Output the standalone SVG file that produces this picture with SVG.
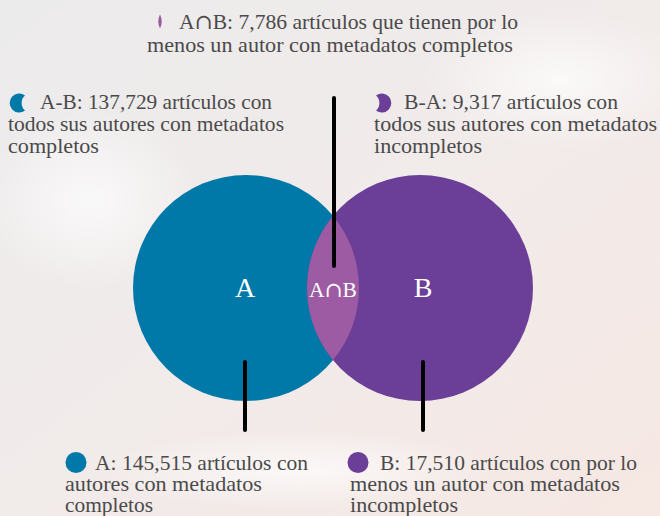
<svg xmlns="http://www.w3.org/2000/svg" width="660" height="516" viewBox="0 0 660 516">
<style>
.t{font-family:"Liberation Serif","DejaVu Serif",serif;font-size:21px;fill:#4a4a4a}
.c{font-family:"Liberation Serif","DejaVu Serif",serif;fill:#ffffff;text-anchor:middle}
.cap{font-family:"DejaVu Serif",serif}
.lead{stroke:#000;stroke-width:4;stroke-linecap:round;fill:none}
</style>
<defs>
<linearGradient id="bg" x1="0" y1="0" x2="1" y2="1">
<stop offset="0" stop-color="#ecebec"/>
<stop offset="0.5" stop-color="#f1ebea"/>
<stop offset="1" stop-color="#f6e8e3"/>
</linearGradient>
<radialGradient id="glow" cx="0.5" cy="0.5" r="0.5">
<stop offset="0" stop-color="#ffffff" stop-opacity="0.7"/>
<stop offset="1" stop-color="#ffffff" stop-opacity="0"/>
</radialGradient>
<clipPath id="clipA"><circle cx="246" cy="288" r="113"/></clipPath>
</defs>
<rect width="660" height="516" fill="url(#bg)"/>
<ellipse cx="560" cy="80" rx="140" ry="70" fill="url(#glow)"/>
<ellipse cx="90" cy="200" rx="110" ry="90" fill="url(#glow)"/>
<ellipse cx="300" cy="470" rx="200" ry="40" fill="url(#glow)"/>

<g id="circleA">
<circle cx="246" cy="288" r="113" fill="#0079a8"/>
<text class="c" x="245" y="297" font-size="28">A</text>
</g>
<g id="circleB">
<circle cx="420" cy="288" r="113" fill="#6b3f97"/>
<text class="c" x="423" y="297" font-size="28">B</text>
</g>
<g id="intersection">
<circle cx="420" cy="288" r="113" fill="#9c5ba3" clip-path="url(#clipA)"/>
<text class="c" x="333" y="297" font-size="21" textLength="48" lengthAdjust="spacingAndGlyphs">A<tspan class="cap">∩</tspan>B</text>
</g>

<g id="connectors">
<line class="lead" x1="334" y1="98" x2="334" y2="266"/>
<line class="lead" x1="245" y1="362" x2="245" y2="430"/>
<line class="lead" x1="423" y1="362" x2="423" y2="430"/>
</g>

<g id="label-AnB">
<path d="M160 14.5 Q163.5 21.5 160 28.5 Q156.5 21.5 160 14.5 Z" fill="#9c5ba3"/>
<text class="t" x="179" y="29" textLength="339" lengthAdjust="spacingAndGlyphs">A<tspan class="cap">∩</tspan>B: 7,786 artículos que tienen por lo</text>
<text class="t" x="147" y="52" textLength="366" lengthAdjust="spacingAndGlyphs">menos un autor con metadatos completos</text>
</g>

<g id="label-AminusB">
<path d="M25 95.5 A9.5 9.5 0 1 0 25 110.5 A10 10 0 0 1 25 95.5 Z" fill="#0079a8"/>
<text class="t" x="40" y="109" textLength="232" lengthAdjust="spacingAndGlyphs">A-B: 137,729 artículos con</text>
<text class="t" x="8" y="131" textLength="276" lengthAdjust="spacingAndGlyphs">todos sus autores con metadatos</text>
<text class="t" x="8" y="153" textLength="91" lengthAdjust="spacingAndGlyphs">completos</text>
</g>

<g id="label-BminusA">
<path d="M376 95.5 A9.5 9.5 0 1 1 376 110.5 A10 10 0 0 0 376 95.5 Z" fill="#6b3f97"/>
<text class="t" x="404" y="109" textLength="214" lengthAdjust="spacingAndGlyphs">B-A: 9,317 artículos con</text>
<text class="t" x="374" y="131" textLength="283" lengthAdjust="spacingAndGlyphs">todos sus autores con metadatos</text>
<text class="t" x="374" y="153" textLength="108" lengthAdjust="spacingAndGlyphs">incompletos</text>
</g>

<g id="label-A">
<circle cx="76" cy="462.5" r="10.5" fill="#0079a8"/>
<text class="t" x="95" y="470" textLength="213" lengthAdjust="spacingAndGlyphs">A: 145,515 artículos con</text>
<text class="t" x="65" y="491" textLength="197" lengthAdjust="spacingAndGlyphs">autores con metadatos</text>
<text class="t" x="65" y="512" textLength="88" lengthAdjust="spacingAndGlyphs">completos</text>
</g>

<g id="label-B">
<circle cx="358" cy="462.5" r="10.5" fill="#6b3f97"/>
<text class="t" x="380" y="470" textLength="257" lengthAdjust="spacingAndGlyphs">B: 17,510 artículos con por lo</text>
<text class="t" x="350" y="491" textLength="270" lengthAdjust="spacingAndGlyphs">menos un autor con metadatos</text>
<text class="t" x="350" y="512" textLength="108" lengthAdjust="spacingAndGlyphs">incompletos</text>
</g>
</svg>
